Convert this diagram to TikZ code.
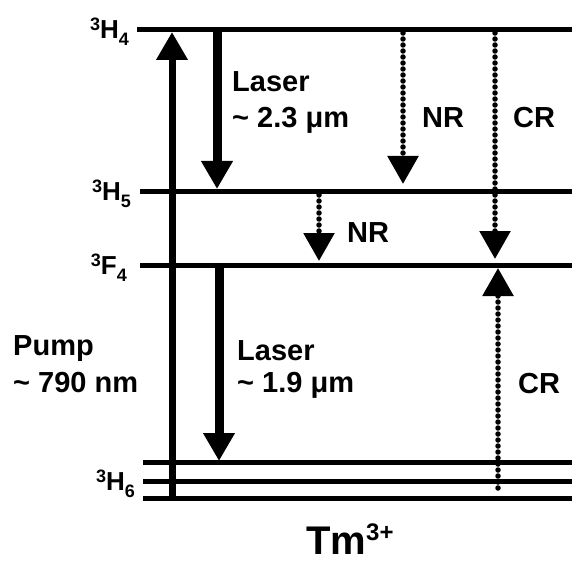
\documentclass[tikz,border=0pt]{standalone}
\usepackage{fontspec}
\setmainfont{Liberation Sans}
\usetikzlibrary{arrows.meta}
\newcommand{\lvl}[3]{\raisebox{8pt}{\fontsize{18}{18}\selectfont\bfseries #1}#2\raisebox{-7pt}{\fontsize{18}{18}\selectfont\bfseries #3}}
\begin{document}
\begin{tikzpicture}[x=1pt,y=-1pt,
  level/.style={line width=5pt},
  lvllabel/.style={anchor=base east,inner sep=0pt,font=\fontsize{26}{26}\selectfont\bfseries},
  txt/.style={anchor=base west,inner sep=0pt,font=\fontsize{29}{29}\selectfont\bfseries},
  tip/.style={-{Triangle[width=30pt 0,length=28pt 0]}},
  pumparrow/.style={tip,line width=7pt},
  laserarrow/.style={tip,line width=9pt},
  dotarrow/.style={tip,line width=5.5pt,line cap=round,dash pattern=on 0pt off 6pt}
]
\useasboundingbox (0,0) rectangle (572,564);
% levels
\coordinate (H4a) at (137,30);  \coordinate (H4b) at (572,30);
\coordinate (H5a) at (140,191); \coordinate (H5b) at (572,191);
\coordinate (F4a) at (140,265); \coordinate (F4b) at (572,265);
\coordinate (H6a) at (143,462); \coordinate (H6b) at (572,462);
\coordinate (H6c) at (143,481); \coordinate (H6d) at (572,481);
\coordinate (H6e) at (143,498); \coordinate (H6f) at (572,498);
\draw[level] (H4a) -- (H4b);
\draw[level] (H5a) -- (H5b);
\draw[level] (F4a) -- (F4b);
\draw[level] (H6a) -- (H6b);
\draw[level] (H6c) -- (H6d);
\draw[level] (H6e) -- (H6f);
% level labels
\node[lvllabel] (lH4) at (129,39) {\lvl{3}{H}{4}};
\node[lvllabel] (lH5) at (131,200) {\lvl{3}{H}{5}};
\node[lvllabel] (lF4) at (127,274) {\lvl{3}{F}{4}};
\node[lvllabel] (lH6) at (135,490) {\lvl{3}{H}{6}};
% arrow end points
\coordinate (p0) at (172,498); \coordinate (p1) at (172,32);
\coordinate (l0) at (217,30);  \coordinate (l1) at (217,189);
\coordinate (n0) at (403,33);  \coordinate (n1) at (403,184);
\coordinate (c0) at (495,33);  \coordinate (c1) at (495,259);
\coordinate (m0) at (319,195); \coordinate (m1) at (319,261);
\coordinate (k0) at (219,265); \coordinate (k1) at (219,461);
\coordinate (d0) at (498,488); \coordinate (d1) at (498,268);
\draw[pumparrow] (p0) -- (p1);
\draw[laserarrow] (l0) -- (l1);
\draw[laserarrow] (k0) -- (k1);
\draw[dotarrow] (n0) -- (n1);
\draw[dotarrow] (c0) -- (c1);
\draw[dotarrow] (m0) -- (m1);
\draw[dotarrow] (d0) -- (d1);
% texts
\node[txt] (t1) at (232,92) {Laser};
\node[txt] (t2) at (232,128) {\textasciitilde\ 2.3 μm};
\node[txt] (t3) at (422,128) {NR};
\node[txt] (t4) at (513,128) {CR};
\node[txt] (t5) at (347,242) {NR};
\node[txt] (t6) at (13,355) {Pump};
\node[txt] (t7) at (13,392) {\textasciitilde\ 790 nm};
\node[txt] (t8) at (237,360) {Laser};
\node[txt] (t9) at (237,392) {\textasciitilde\ 1.9 μm};
\node[txt] (t10) at (518,393) {CR};
\node[txt,font=\fontsize{40}{40}\selectfont\bfseries] (t11) at (306,554) {Tm\raisebox{14pt}{\fontsize{24}{24}\selectfont\bfseries 3+}};
\end{tikzpicture}
\end{document}
